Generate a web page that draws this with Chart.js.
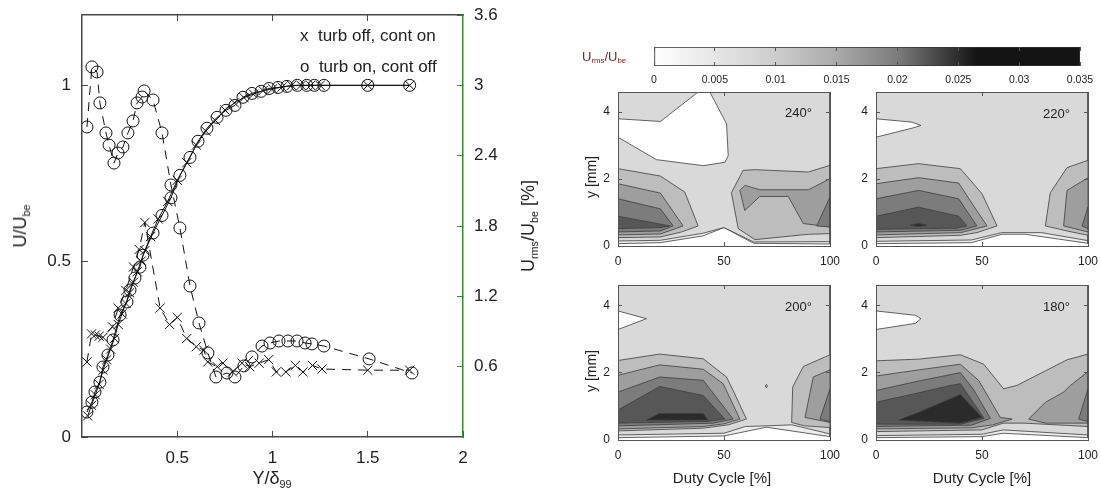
<!DOCTYPE html>
<html>
<head>
<meta charset="utf-8">
<script src="https://cdn.jsdelivr.net/npm/chart.js@4.4.1/dist/chart.umd.min.js"></script>
<style>
  html, body { margin: 0; padding: 0; background: #fff; }
  #fig { position: relative; width: 1101px; height: 495px; overflow: hidden;
         font-family: 'Liberation Sans', Arial, Helvetica, sans-serif; color: #222; }
  #fig canvas { position: absolute; }
  .lbl { position: absolute; white-space: pre; line-height: 1; }
  .vc  { transform: translateY(-50%); }
  .mid { transform: translate(-50%, -50%); }
  .rot { transform: translate(-50%, -50%) rotate(-90deg); }
  .lbl sub { font-size: 0.6em; vertical-align: -0.35em; line-height: 0; }
</style>
</head>
<body>
<div id="fig">
  <canvas id="profile" width="560" height="495" style="left:0;top:0"></canvas>
  <canvas id="cbar" width="460" height="50" style="left:640px;top:40px"></canvas>
  <canvas id="c240" width="280" height="185" style="left:570px;top:85px"></canvas>
  <canvas id="c220" width="265" height="185" style="left:835px;top:85px"></canvas>
  <canvas id="c200" width="280" height="190" style="left:570px;top:278px"></canvas>
  <canvas id="c180" width="265" height="190" style="left:835px;top:278px"></canvas>

  <div class="lbl vc" style="left:300px;top:35px;font-size:17px">x  turb off, cont on</div>
  <div class="lbl vc" style="left:300px;top:66px;font-size:17px">o  turb on, cont off</div>
  <div class="lbl rot" style="left:20px;top:226px;font-size:18px">U/U<sub>be</sub></div>
  <div class="lbl rot" style="left:528px;top:226px;font-size:18px">U<sub>rms</sub>/U<sub>be</sub> [%]</div>
  <div class="lbl mid" style="left:272px;top:478px;font-size:18px">Y/δ<sub>99</sub></div>

  <div class="lbl vc" style="left:582px;top:56px;font-size:13px;color:#7a2424">U<sub>rms</sub>/U<sub>be</sub></div>

  <div class="lbl vc" style="left:785px;top:112px;font-size:13px">240°</div>
  <div class="lbl vc" style="left:1043px;top:113px;font-size:13px">220°</div>
  <div class="lbl vc" style="left:785px;top:306px;font-size:13px">200°</div>
  <div class="lbl vc" style="left:1043px;top:306px;font-size:13px">180°</div>
  <div class="lbl rot" style="left:591px;top:177px;font-size:14px">y [mm]</div>
  <div class="lbl rot" style="left:591px;top:371px;font-size:14px">y [mm]</div>
  <div class="lbl mid" style="left:722px;top:477px;font-size:15px">Duty Cycle [%]</div>
  <div class="lbl mid" style="left:982px;top:477px;font-size:15px">Duty Cycle [%]</div>
</div>

<script>
// ---- profile data (Y/delta99 positions and values) ----
const velY_x = [0.03, 0.05, 0.07, 0.09, 0.11, 0.13, 0.15, 0.17, 0.19, 0.21, 0.23, 0.25, 0.27, 0.29, 0.31, 0.33, 0.36, 0.40, 0.45, 0.50, 0.55, 0.60, 0.65, 0.70, 0.75, 0.80, 0.85, 0.90, 0.95, 1.0, 1.05, 1.1, 1.15, 1.2, 1.25, 1.5, 1.72];
const velU_x = [0.06, 0.09, 0.12, 0.15, 0.19, 0.22, 0.25, 0.28, 0.32, 0.35, 0.38, 0.41, 0.44, 0.47, 0.5, 0.53, 0.57, 0.62, 0.67, 0.73, 0.78, 0.83, 0.87, 0.9, 0.93, 0.95, 0.965, 0.975, 0.985, 0.99, 0.995, 1.0, 1.0, 1.0, 1.0, 1.0, 1.0];
const velY_o = [0.026, 0.052, 0.068, 0.094, 0.11, 0.136, 0.163, 0.2, 0.236, 0.252, 0.278, 0.304, 0.32, 0.373, 0.42, 0.467, 0.514, 0.567, 0.609, 0.656, 0.709, 0.756, 0.803, 0.845, 0.892, 0.94, 0.982, 1.029, 1.076, 1.13, 1.18, 1.22, 1.27, 1.5, 1.72];
const velU_o = [0.071, 0.099, 0.128, 0.156, 0.199, 0.233, 0.276, 0.347, 0.384, 0.418, 0.452, 0.483, 0.517, 0.58, 0.63, 0.68, 0.744, 0.795, 0.841, 0.878, 0.909, 0.929, 0.943, 0.966, 0.977, 0.983, 0.991, 0.994, 0.997, 1.0, 1.0, 1.0, 1.0, 1.0, 1.0];
const rmsY_x = [0.026, 0.05, 0.07, 0.09, 0.11, 0.16, 0.19, 0.23, 0.27, 0.30, 0.33, 0.41, 0.46, 0.50, 0.55, 0.60, 0.64, 0.66, 0.71, 0.74, 0.79, 0.84, 0.88, 0.93, 0.98, 1.02, 1.07, 1.12, 1.16, 1.21, 1.26, 1.5, 1.72];
const rmsV_x = [0.64, 0.88, 0.87, 0.86, 0.85, 0.94, 1.1, 1.25, 1.45, 1.6, 1.83, 1.1, 0.96, 1.02, 0.84, 0.77, 0.74, 0.64, 0.6, 0.63, 0.555, 0.63, 0.6, 0.63, 0.66, 0.555, 0.555, 0.61, 0.555, 0.61, 0.58, 0.57, 0.57];
const rmsY_o = [0.026, 0.052, 0.079, 0.094, 0.126, 0.142, 0.168, 0.189, 0.215, 0.241, 0.268, 0.289, 0.315, 0.326, 0.373, 0.42, 0.467, 0.514, 0.567, 0.614, 0.661, 0.703, 0.761, 0.803, 0.85, 0.892, 0.945, 0.987, 1.034, 1.081, 1.129, 1.171, 1.207, 1.27, 1.507, 1.732];
const rmsV_o = [2.645, 3.157, 3.114, 2.85, 2.594, 2.49, 2.337, 2.423, 2.474, 2.594, 2.696, 2.85, 2.9, 2.952, 2.875, 2.594, 2.15, 1.783, 1.288, 0.973, 0.717, 0.512, 0.546, 0.512, 0.606, 0.683, 0.776, 0.802, 0.819, 0.819, 0.819, 0.802, 0.794, 0.776, 0.666, 0.546];

const xTicksProfile = [0.5, 1, 1.5, 2];
const uTicks = [0, 0.5, 1];
const rmsTicks = [0.6, 1.2, 1.8, 2.4, 3, 3.6];

// ---- contour panels: [level, polygon in (duty cycle %, y mm)] ----
const dutyTicks = [0, 50, 100];
const yTicks = [0, 2, 4];
const cbarTicks = [0, 0.005, 0.01, 0.015, 0.02, 0.025, 0.03, 0.035];

const p240 = [
  [1, [[0,4.6],[100,4.6],[100,0.06],[64,0.08],[50,0.55],[40,0.3],[20,0.1],[0,0.07]]],
  [2, [[0,4.6],[100,4.6],[100,0.13],[64,0.12],[50,0.55],[40,0.38],[20,0.17],[0,0.15]]],
  [0, [[0,3.8],[20,3.72],[37.8,4.6],[43.3,4.6],[51.2,3.65],[52,2.7],[50.4,2.5],[40.2,2.4],[18.1,2.58],[0,3.25]]],
  [3, [[0,2.31],[20,2.09],[31.5,1.61],[37.8,0.6],[30,0.42],[20,0.27],[0,0.25]]],
  [3, [[53.5,1.59],[59,2.26],[64.6,2.28],[89.8,2.21],[100,2.41],[100,0.37],[89.8,0.35],[64.6,0.19],[56.7,0.52]]],
  [4, [[0,1.86],[20,1.58],[30.7,0.6],[25,0.47],[20,0.36],[0,0.33]]],
  [4, [[59.8,1.81],[66.9,1.68],[89.8,1.68],[100,2.01],[100,0.57],[87.4,0.67],[80.3,1.48],[66.9,1.48],[59.8,1.06],[57.5,1.66]]],
  [5, [[0,1.41],[20,1.11],[26,0.6],[20,0.45],[0,0.42]]],
  [5, [[93.7,0.6],[100,1.46],[100,0.57]]],
  [6, [[0,0.89],[24.4,0.6],[20,0.55],[0,0.52]]]
];
const p220 = [
  [1, [[0,4.6],[100,4.6],[100,0.08],[70.4,0.35],[59.4,0.35],[45,0.1],[0,0.07]]],
  [2, [[0,4.6],[100,4.6],[100,0.16],[78,0.4],[59.4,0.4],[45,0.18],[0,0.14]]],
  [0, [[0,3.8],[17,3.7],[21.2,3.6],[17,3.52],[0,3.25]]],
  [3, [[0,2.31],[20.1,2.46],[39.8,2.31],[50,1.56],[57.1,0.6],[47.6,0.4],[40,0.32],[0,0.25]]],
  [4, [[0,1.86],[20.1,2.04],[39,1.88],[46,1.2],[52.4,0.6],[40,0.4],[0,0.33]]],
  [5, [[0,1.41],[20.1,1.66],[39,1.41],[47.6,0.6],[40,0.47],[0,0.42]]],
  [6, [[0,0.89],[20.1,1.16],[39,0.89],[42.9,0.6],[38,0.53],[0,0.5]]],
  [7, [[16,0.62],[20,0.67],[24,0.62],[20,0.58]]],
  [3, [[100,2.56],[90.1,2.34],[82.2,1.59],[79.9,0.6],[90,0.45],[100,0.32]]],
  [4, [[100,2.04],[90.1,1.66],[88.5,0.6],[100,0.42]]],
  [5, [[100,1.16],[97.2,0.6],[100,0.52]]]
];
const p200 = [
  [1, [[0,4.6],[100,4.6],[100,0.1],[70,0.38],[50,0.12],[0,0.07]]],
  [2, [[0,4.6],[100,4.6],[100,0.18],[82,0.45],[70,0.42],[60,0.4],[50,0.2],[0,0.15]]],
  [0, [[0,3.83],[13.4,3.6],[0,3.28]]],
  [3, [[0,2.36],[19.7,2.55],[40.2,2.41],[51.2,1.87],[54.3,1.47],[60.6,0.62],[52,0.45],[40,0.35],[0,0.27]]],
  [4, [[0,1.92],[19.7,2.23],[40.2,2.1],[49.6,1.67],[57.5,0.62],[50,0.48],[40,0.4],[0,0.33]]],
  [5, [[0,1.42],[19.7,1.87],[40.2,1.77],[48.8,1.07],[54.3,0.62],[45,0.5],[0,0.42]]],
  [6, [[0,0.89],[19.7,1.59],[40.2,1.32],[50.4,0.62],[42,0.55],[0,0.5]]],
  [7, [[13.4,0.59],[19.7,0.79],[40.2,0.79],[42.5,0.59]]],
  [3, [[100,2.53],[87.4,2.18],[82.4,1.57],[81.9,0.52],[88,0.42],[100,0.37]]],
  [4, [[100,2.08],[92.1,1.87],[88.2,0.67],[100,0.52]]],
  [5, [[100,1.52],[95.3,0.62],[100,0.55]]],
  [3, [[69.5,1.6],[70,1.65],[70.5,1.6],[70,1.55]]]
];
const p180 = [
  [1, [[0,4.6],[100,4.6],[100,0.07],[60,0.2],[50,0.1],[0,0.07]]],
  [2, [[0,4.6],[100,4.6],[100,0.15],[60,0.3],[50,0.17],[0,0.13]]],
  [0, [[0,3.83],[18.6,3.7],[21.2,3.6],[18.6,3.46],[0,3.28]]],
  [3, [[0,2.35],[20.1,2.4],[39.8,2.53],[50.8,2.25],[60.2,1.52],[66.5,1.62],[90.1,2.38],[100,2.55],[100,0.4],[70,0.5],[60,0.5],[50,0.3],[0,0.25]]],
  [4, [[0,1.9],[20.1,2.08],[39.8,2.25],[48.4,1.77],[58.6,0.67],[64.2,0.62],[55,0.45],[45,0.36],[0,0.33]]],
  [4, [[72,0.62],[79.9,1.12],[88.5,1.42],[91.7,1.62],[100,2.03],[100,0.5],[80,0.5]]],
  [5, [[0,1.47],[20.1,1.75],[39.8,2.0],[46,1.5],[54,0.64],[45,0.44],[0,0.4]]],
  [6, [[0,1.12],[20.1,1.4],[35,1.62],[39.8,1.67],[51,0.64],[40,0.47],[0,0.47]]],
  [7, [[10.7,0.59],[20.1,0.82],[39.8,1.35],[50,0.67],[39.8,0.5]]],
  [5, [[95.6,0.62],[100,1.52],[100,0.55]]]
];

// ---- styles ----
const FONT = "'Liberation Sans', Arial, Helvetica, sans-serif";
const INK = '#111';
const AXIS = '#4a4a4a';
const GREEN = '#2f8f2f';
const levelFill = ['#ffffff', '#ececec', '#d9d9d9', '#bdbdbd', '#9e9e9e', '#7c7c7c', '#575757', '#2b2b2b'];
const cbarStops = [[0, '#ffffff'], [0.005, '#e6e6e6'], [0.01, '#cdcdcd'], [0.015, '#aaaaaa'], [0.02, '#7c7c7c'], [0.0235, '#444444'], [0.0265, '#141414'], [0.035, '#141414']];

const pairs = (xs, ys) => xs.map((x, i) => ({ x, y: ys[i] }));
const setTicks = vals => s => { s.ticks = vals.map(v => ({ value: v })); };
function fixSize(prop, px) {
  return s => { s[prop] = px; s.paddingLeft = s.paddingRight = s.paddingTop = s.paddingBottom = 0; };
}
const quiet = { legend: { display: false }, tooltip: { enabled: false } };

// ---- velocity / rms profile ----
(function () {
  const tickFont = { family: FONT, size: 17 };
  const grid = { drawOnChartArea: false, tickLength: -6, color: AXIS };
  const border = { color: AXIS, width: 1.5 };
  const line = (xs, ys, axis, style, dashed) => ({
    data: pairs(xs, ys), yAxisID: axis, showLine: true,
    borderColor: INK, borderWidth: 1, borderDash: dashed ? [9, 7] : [],
    pointStyle: style, pointRadius: style === 'circle' ? 6 : 6.5,
    pointBorderColor: INK, pointBackgroundColor: 'rgba(0,0,0,0)', pointBorderWidth: 1
  });
  new Chart(document.getElementById('profile'), {
    type: 'scatter',
    data: { datasets: [
      line(velY_x, velU_x, 'y', 'crossRot', false),
      line(velY_o, velU_o, 'y', 'circle', false),
      line(rmsY_x, rmsV_x, 'y1', 'crossRot', true),
      line(rmsY_o, rmsV_o, 'y1', 'circle', true)
    ]},
    options: {
      responsive: false, animation: false, events: [],
      plugins: quiet, layout: { padding: 0 },
      scales: {
        x: { type: 'linear', position: 'bottom', min: 0, max: 2, afterBuildTicks: setTicks(xTicksProfile),
             ticks: { font: tickFont, color: '#222', padding: 17, maxRotation: 0, callback: v => String(v) },
             grid, border, afterFit: fixSize('height', 58) },
        xt: { type: 'linear', position: 'top', min: 0, max: 2, afterBuildTicks: setTicks([0.5, 1, 1.5]),
              ticks: { display: false }, grid, border, afterFit: fixSize('height', 15) },
        y: { type: 'linear', position: 'left', min: 0, max: 1.2, afterBuildTicks: setTicks(uTicks),
             ticks: { font: tickFont, color: '#222', padding: 17, callback: v => String(v) },
             grid, border, afterFit: fixSize('width', 82) },
        y1: { type: 'linear', position: 'right', min: 0, max: 3.6, afterBuildTicks: setTicks(rmsTicks),
              ticks: { font: tickFont, color: '#222', padding: 17, callback: v => String(v) },
              grid: { drawOnChartArea: false, tickLength: -6, color: GREEN },
              border: { color: GREEN, width: 1.5 }, afterFit: fixSize('width', 97) }
      }
    }
  });
})();

// ---- colour bar ----
new Chart(document.getElementById('cbar'), {
  type: 'bar',
  data: { labels: ['c'], datasets: [{
    data: [[cbarTicks[0], cbarTicks[cbarTicks.length - 1]]],
    barPercentage: 1, categoryPercentage: 1, borderWidth: 1, borderColor: '#333', borderSkipped: false,
    backgroundColor: c => {
      const { ctx, chartArea, scales } = c.chart;
      if (!chartArea) return '#888';
      const x0 = scales.x.getPixelForValue(0), x1 = scales.x.getPixelForValue(0.035);
      const g = ctx.createLinearGradient(x0, 0, x1, 0);
      cbarStops.forEach(([v, col]) => g.addColorStop(v / 0.035, col));
      return g;
    }
  }]},
  options: {
    indexAxis: 'y', responsive: false, animation: false, events: [],
    plugins: quiet, layout: { padding: { top: 7, right: 20 } },
    scales: {
      x: { type: 'linear', position: 'bottom', min: 0, max: 0.035, afterBuildTicks: setTicks(cbarTicks),
           ticks: { font: { family: FONT, size: 10.5 }, color: '#222', padding: 12, maxRotation: 0, callback: v => String(v) },
           grid: { drawOnChartArea: false, tickLength: -4, color: '#555', z: 1 },
           border: { display: false }, afterFit: fixSize('height', 24) },
      xt: { type: 'linear', position: 'top', min: 0, max: 0.035, afterBuildTicks: setTicks(cbarTicks),
            ticks: { display: false }, grid: { drawOnChartArea: false, tickLength: -4, color: '#555', z: 1 },
            border: { display: false }, afterFit: fixSize('height', 0) },
      y: { type: 'category', ticks: { display: false }, grid: { display: false }, border: { display: false },
           afterFit: fixSize('width', 14) }
    }
  }
});

// ---- contour panels ----
function layerSets(layers) {
  return layers.map(([lvl, pts], i) => ({
    data: pts.concat([pts[0]]).map(([x, y]) => ({ x, y })),
    showLine: true, fill: 'shape', backgroundColor: levelFill[lvl],
    borderColor: '#3d3d3d', borderWidth: 0.8, pointRadius: 0, order: layers.length - i
  }));
}
function panel(id, layers, leftW, rightW, botH) {
  const font = { family: FONT, size: 12 };
  const grid = { drawOnChartArea: false, tickLength: -4, color: '#555', z: 1 };
  const border = { color: '#555', width: 1, z: 1 };
  const axis = (pos, max, vals, labels, fit) => ({
    type: 'linear', position: pos, min: 0, max, afterBuildTicks: setTicks(vals),
    ticks: { display: labels, font, color: '#222', padding: 12, maxRotation: 0, callback: v => String(v) },
    grid, border, afterFit: fit
  });
  new Chart(document.getElementById(id), {
    type: 'scatter',
    data: { datasets: layerSets(layers) },
    options: {
      responsive: false, animation: false, events: [],
      plugins: quiet, layout: { padding: 0 },
      scales: {
        x: axis('bottom', 100, dutyTicks, true, fixSize('height', botH)),
        xt: axis('top', 100, dutyTicks, false, fixSize('height', 7)),
        y: axis('left', 4.6, yTicks, true, fixSize('width', leftW)),
        yr: axis('right', 4.6, yTicks, false, fixSize('width', rightW))
      }
    }
  });
}
panel('c240', p240, 48, 20, 24);
panel('c220', p220, 41, 12, 24);
panel('c200', p200, 48, 20, 28);
panel('c180', p180, 41, 12, 28);
</script>
</body>
</html>
